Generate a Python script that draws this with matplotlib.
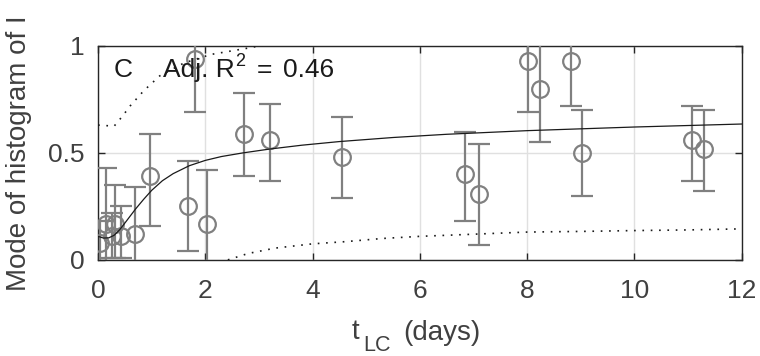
import matplotlib
matplotlib.use('Agg')
import matplotlib.pyplot as plt

plt.rcParams['font.family'] = ['Liberation Sans', 'DejaVu Sans']

# measured points with error bar ends
t_lc = [0.04, 0.15, 0.26, 0.32, 0.43, 0.69, 0.97, 1.68, 1.81, 2.03, 2.72, 3.2,
        4.55, 6.84, 7.1, 8.01, 8.24, 8.81, 9.02, 11.08, 11.29]
mode = [0.08, 0.17, 0.11, 0.17, 0.11, 0.12, 0.39, 0.25, 0.94, 0.17, 0.59, 0.56,
        0.48, 0.40, 0.31, 0.93, 0.80, 0.93, 0.50, 0.56, 0.52]
err_lo = [-0.05, -0.05, 0.01, 0.01, 0.01, -0.05, 0.16, 0.04, 0.69, -0.05, 0.39, 0.37,
          0.29, 0.18, 0.07, 0.69, 0.55, 0.72, 0.30, 0.37, 0.32]
err_hi = [0.18, 0.43, 0.22, 0.35, 0.25, 0.34, 0.59, 0.46, 1.2, 0.42, 0.78, 0.73,
          0.67, 0.60, 0.54, 1.2, 1.2, 1.2, 0.70, 0.72, 0.70]

# fitted curve and confidence bounds
fit_x = [0, 0.1, 0.2, 0.3, 0.4, 0.5, 0.6, 0.7, 0.85, 1.0, 1.2, 1.4, 1.7, 2.0, 2.3,
         2.7, 3.2, 3.8, 4.5, 5.5, 6.5, 8, 10, 12]
fit_y = [0.11, 0.102, 0.103, 0.115, 0.14, 0.172, 0.205, 0.238, 0.283, 0.325, 0.37,
         0.403, 0.44, 0.465, 0.483, 0.50, 0.518, 0.536, 0.553, 0.572, 0.587, 0.604,
         0.621, 0.635]
up_x = [0, 0.3, 0.45, 0.6, 0.85, 1.15, 1.6, 2.1, 2.8, 3.1]
up_y = [0.63, 0.625, 0.67, 0.72, 0.79, 0.86, 0.92, 0.96, 0.99, 1.005]
lo_x = [2.42, 2.8, 3.3, 4.0, 4.6, 5.3, 6.0, 7.0, 8.0, 9.0, 10.0, 11.0, 12.0]
lo_y = [0.0, 0.03, 0.055, 0.075, 0.085, 0.10, 0.11, 0.12, 0.13, 0.133, 0.137, 0.14, 0.145]

W, H = 760, 356
fig = plt.figure(figsize=(W / 100, H / 100), dpi=100)
ax = fig.add_axes([0.129, 0.270, 0.847, 0.601])

yerr = [[m - l for m, l in zip(mode, err_lo)], [h - m for m, h in zip(mode, err_hi)]]
ax.errorbar(t_lc, mode, yerr=yerr, fmt='o', color='#808080', mfc='none',
            mec='#808080', ms=12, mew=1.6, elinewidth=1.6, capsize=8, capthick=1.6,
            zorder=3)
ax.plot(fit_x, fit_y, color='#1a1a1a', lw=0.9, zorder=4)
ax.plot(up_x, up_y, color='#1a1a1a', lw=1.2, linestyle=(0, (1, 4)), zorder=4)
ax.plot(lo_x, lo_y, color='#1a1a1a', lw=1.2, linestyle=(0, (1, 4)), zorder=4)

ax.set_xlim(0, 12)
ax.set_ylim(0, 1)
ax.set_xticks([0, 2, 4, 6, 8, 10, 12])
ax.set_yticks([0, 0.5, 1])
ax.set_yticklabels(['0', '0.5', '1'])
ax.grid(True, color='#e0e0e0', lw=1)
ax.set_axisbelow(True)
ax.tick_params(direction='in', top=True, right=True, length=5, width=1,
               colors='#262626', labelcolor='#404040', labelsize=19)
ax.tick_params(axis='x', pad=14)
ax.tick_params(axis='y', pad=10)
for s in ax.spines.values():
    s.set_color('#262626')
    s.set_linewidth(1)


def put(x_px, base_px, s, size, color='#1a1a1a'):
    # place a text piece by pixel position (from top-left), baseline aligned
    fig.text(x_px / W, 1 - base_px / H, s, fontsize=size, color=color,
             ha='left', va='baseline')


# panel annotation
put(114, 77, 'C', 19)
put(163, 77, 'Adj. R', 19)
put(235, 66, '2', 13)
put(257, 77, '=', 19)
put(283, 77, '0.46', 19)

# x label with large subscript
put(352, 339, 't', 20, '#404040')
put(363, 351, 'LC', 15.5, '#404040')
put(403, 340, '(days)', 20, '#404040')

ax.set_ylabel('Mode of histogram of I', fontsize=20, color='#404040', labelpad=11)

fig.savefig('out.png', dpi=100)
